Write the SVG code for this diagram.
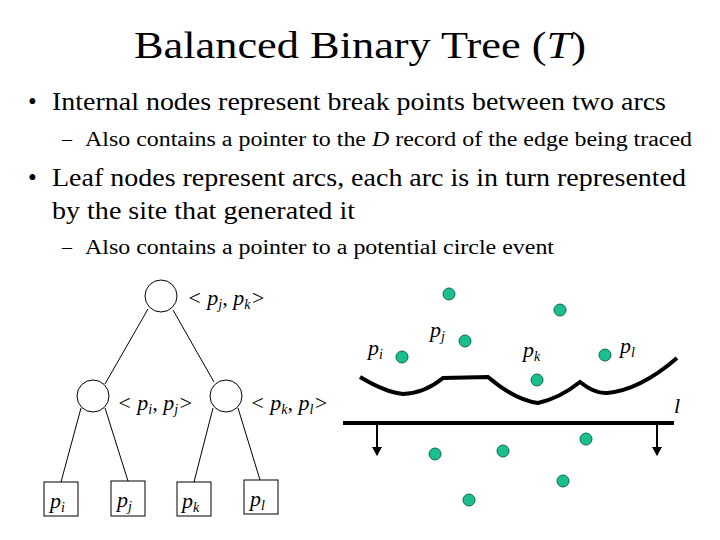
<svg xmlns="http://www.w3.org/2000/svg" width="720" height="540" viewBox="0 0 720 540" font-family="'Liberation Serif', 'Times New Roman', Tinos, 'DejaVu Serif', serif">
<style>
text{font-family:'Liberation Serif','Times New Roman',Tinos,'DejaVu Serif',serif;fill:#000}
.t{font-size:37px}.b{font-size:25px}.s{font-size:20px}.m{font-size:22px;font-style:italic}
.n{fill:#fff;stroke:#000;stroke-width:1}
.e{stroke:#000;stroke-width:1;fill:none}
.d{fill:#1bbf8f;stroke:#0a6a4a;stroke-width:1}
</style>
<defs><marker id="ar" markerWidth="10" markerHeight="10" refX="8" refY="5" orient="auto" markerUnits="userSpaceOnUse"><path d="M0,0 L9,5 L0,10 z" fill="#000"/></marker></defs>
<rect width="720" height="540" fill="#fff"/>
<text class="t" x="134" y="58" textLength="452" lengthAdjust="spacingAndGlyphs">Balanced Binary Tree (<tspan font-style="italic">T</tspan>)</text>
<text class="b" x="28" y="110">•</text><text class="b" x="52" y="110" textLength="614" lengthAdjust="spacingAndGlyphs">Internal nodes represent break points between two arcs</text>
<text class="s" x="62" y="146">–</text><text class="s" x="85" y="146" textLength="607" lengthAdjust="spacingAndGlyphs">Also contains a pointer to the <tspan font-style="italic">D</tspan> record of the edge being traced</text>
<text class="b" x="28" y="186">•</text><text class="b" x="52" y="186" textLength="634" lengthAdjust="spacingAndGlyphs">Leaf nodes represent arcs, each arc is in turn represented</text>
<text class="b" x="52" y="219" textLength="303" lengthAdjust="spacingAndGlyphs">by the site that generated it</text>
<text class="s" x="62" y="254">–</text><text class="s" x="85" y="254" textLength="469" lengthAdjust="spacingAndGlyphs">Also contains a pointer to a potential circle event</text>
<g id="connectors">
<line class="e" x1="148" y1="309" x2="105" y2="384"/><line class="e" x1="173" y1="310" x2="214" y2="382"/>
<line class="e" x1="81" y1="408" x2="61" y2="482"/><line class="e" x1="105" y1="408" x2="128" y2="481"/>
<line class="e" x1="213" y1="408" x2="194" y2="482"/><line class="e" x1="238" y1="408" x2="260" y2="480"/>
</g>
<g id="root"><circle class="n" cx="161" cy="296" r="16"/><text class="m" x="187" y="305">&lt; p<tspan font-size="14" dy="4">j</tspan><tspan dy="-4">, p</tspan><tspan font-size="14" dy="4">k</tspan><tspan dy="-4">&gt;</tspan></text></g>
<g id="nij"><circle class="n" cx="93" cy="396" r="16"/><text class="m" x="117" y="410">&lt; p<tspan font-size="14" dy="4">i</tspan><tspan dy="-4">, p</tspan><tspan font-size="14" dy="4">j</tspan><tspan dy="-4">&gt;</tspan></text></g>
<g id="nkl"><circle class="n" cx="226" cy="396" r="16"/><text class="m" x="250" y="410">&lt; p<tspan font-size="14" dy="4">k</tspan><tspan dy="-4">, p</tspan><tspan font-size="14" dy="4">l</tspan><tspan dy="-4">&gt;</tspan></text></g>
<g id="li"><rect class="n" x="44" y="482" width="34" height="34"/><text class="m" x="50" y="508">p<tspan font-size="14" dy="4">i</tspan></text></g>
<g id="lj"><rect class="n" x="111" y="481" width="34" height="35"/><text class="m" x="117" y="507">p<tspan font-size="14" dy="4">j</tspan></text></g>
<g id="lk"><rect class="n" x="177" y="482" width="34" height="34"/><text class="m" x="182" y="508">p<tspan font-size="14" dy="4">k</tspan></text></g>
<g id="ll"><rect class="n" x="244" y="480" width="34" height="34"/><text class="m" x="250" y="506">p<tspan font-size="14" dy="4">l</tspan></text></g>
<g id="scene">
<path d="M360,377 Q385,392 403,394 Q425,393 443,378 L488,377 Q515,400 538,403 Q560,398 580,382 Q595,394 607,393 Q640,390 677,358" fill="none" stroke="#000" stroke-width="4"/>
<line x1="343" y1="423" x2="674" y2="423" stroke="#000" stroke-width="4"/>
<line x1="377" y1="423" x2="377" y2="455" stroke="#000" stroke-width="2" marker-end="url(#ar)"/>
<line x1="657" y1="423" x2="657" y2="455" stroke="#000" stroke-width="2" marker-end="url(#ar)"/>
<circle class="d" cx="449" cy="294" r="6"/><circle class="d" cx="560" cy="310" r="6"/><circle class="d" cx="402" cy="357" r="6"/><circle class="d" cx="465" cy="341" r="6"/><circle class="d" cx="537" cy="380" r="6"/><circle class="d" cx="605" cy="355" r="6"/><circle class="d" cx="435" cy="454" r="6"/><circle class="d" cx="503" cy="451" r="6"/><circle class="d" cx="586" cy="439" r="6"/><circle class="d" cx="563" cy="481" r="6"/><circle class="d" cx="469" cy="500" r="6"/>
<text class="m" x="368" y="355">p<tspan font-size="14" dy="4">i</tspan></text>
<text class="m" x="430" y="337">p<tspan font-size="14" dy="4">j</tspan></text>
<text class="m" x="523" y="357">p<tspan font-size="14" dy="4">k</tspan></text>
<text class="m" x="620" y="353">p<tspan font-size="14" dy="4">l</tspan></text>
<text class="m" x="674" y="413" font-size="26">l</text>
</g>
</svg>
